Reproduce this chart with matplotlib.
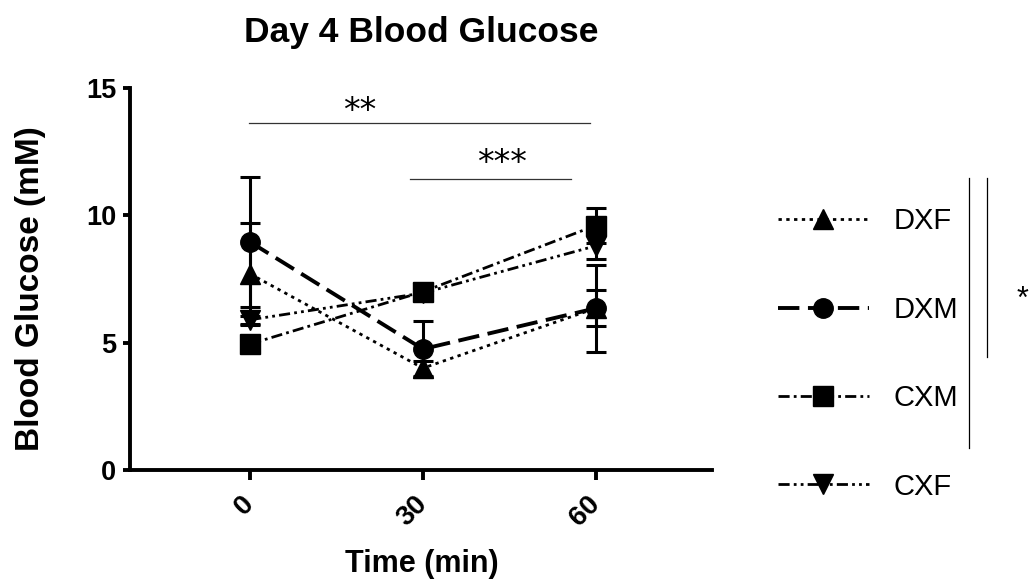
import matplotlib
matplotlib.use("Agg")
import matplotlib.pyplot as plt
from matplotlib.lines import Line2D

plt.rcParams["font.family"] = ["Liberation Sans", "DejaVu Sans"]

# ---- data ----
TIMES = [0, 30, 60]
GROUPS = ["DXF", "DXM", "CXM", "CXF"]
DXF_MEAN = [7.7, 4.0, 6.35]
DXF_SEM = [2.0, 0.3, 0.7]
DXM_MEAN = [8.95, 4.75, 6.35]
DXM_SEM = [2.55, 1.1, 1.7]
CXM_MEAN = [4.95, 7.0, 9.6]
CXM_SEM = [0.1, 0.3, 0.7]
CXF_MEAN = [5.9, 6.95, 8.8]
CXF_SEM = [0.15, 0.2, 0.5]

# significance bars: (x0, x1, y_line, x_text, y_text, label)
SIG_BARS = [(-0.3, 59.0, 13.62, 19.1, 13.72, "**"),
            (27.8, 55.8, 11.43, 43.8, 11.65, "***")]

STYLES = {
    "DXF": dict(marker="^", ls=(0, (1.2, 1.6)), lw=2.0),
    "DXM": dict(marker="o", ls=(0, (5.5, 2.2)), lw=2.8),
    "CXM": dict(marker="s", ls=(0, (4, 1.5, 1, 1.5)), lw=2.0),
    "CXF": dict(marker="v", ls=(0, (4, 1.5, 1, 1.5, 1, 1.5)), lw=2.0),
}

means = dict(zip(GROUPS, [DXF_MEAN, DXM_MEAN, CXM_MEAN, CXF_MEAN]))
sems = dict(zip(GROUPS, [DXF_SEM, DXM_SEM, CXM_SEM, CXF_SEM]))

fig = plt.figure(figsize=(10.29, 5.81), dpi=100)
ax = fig.add_axes([0.1263, 0.191, 0.566, 0.6575])

handles = []
for g in GROUPS:
    st = STYLES[g]
    ax.errorbar(TIMES, means[g], yerr=sems[g], fmt="none", ecolor="black",
                elinewidth=2.2, capsize=7, capthick=2.2, zorder=3)
    ln, = ax.plot(TIMES, means[g], color="black", marker=st["marker"],
                  markersize=14, linestyle=st["ls"], linewidth=st["lw"],
                  zorder=4, label=g)
    handles.append(ln)

ax.set_xlim(-20.9, 80.3)
ax.set_ylim(0, 15)
ax.set_xticks(TIMES)
ax.set_xticklabels([str(t) for t in TIMES], rotation=45, ha="right",
                   va="center", rotation_mode="anchor", fontsize=20,
                   fontweight="bold")
ax.set_yticks([0, 5, 10, 15])
ax.set_yticklabels(["0", "5", "10", "15"], fontsize=19.5, fontweight="bold")
for sp in ["top", "right"]:
    ax.spines[sp].set_visible(False)
for sp in ["left", "bottom"]:
    ax.spines[sp].set_linewidth(2.8)
ax.tick_params(axis="x", width=2.8, length=7, direction="out", pad=15)
ax.tick_params(axis="y", width=2.8, length=5, direction="out", pad=5)

ax.set_xlabel("Time (min)", fontsize=22, fontweight="bold")
ax.xaxis.set_label_coords(0.501, -0.207)
ax.set_ylabel("Blood Glucose (mM)", fontsize=24, fontweight="bold")
ax.yaxis.set_label_coords(-0.145, 0.476)
ax.set_title("Day 4 Blood Glucose", fontsize=25.5, fontweight="bold", pad=33)

for x0, x1, yl, xt, yt, lab in SIG_BARS:
    ax.plot([x0, x1], [yl, yl], color="#333333", lw=0.9, clip_on=False)
    ax.text(xt, yt, lab, ha="center", va="baseline", fontsize=24,
            family=["DejaVu Sans"], clip_on=False)

leg = fig.legend(handles=handles, labels=GROUPS, loc="upper left",
                 bbox_to_anchor=(0.742, 0.668), frameon=False, fontsize=21,
                 handlelength=3.1, handletextpad=0.85, labelspacing=2.07,
                 borderpad=0)

# group bracket lines on the right
fig.add_artist(Line2D([0.9417, 0.9417], [1 - 178 / 581, 1 - 448 / 581],
                      color="black", lw=0.9))
fig.add_artist(Line2D([0.9592, 0.9592], [1 - 178 / 581, 1 - 357 / 581],
                      color="black", lw=0.9))
fig.text(0.999, 1 - 300 / 581, "*", fontsize=22, ha="right", va="center")

fig.savefig("out.png", dpi=100, facecolor="white")
